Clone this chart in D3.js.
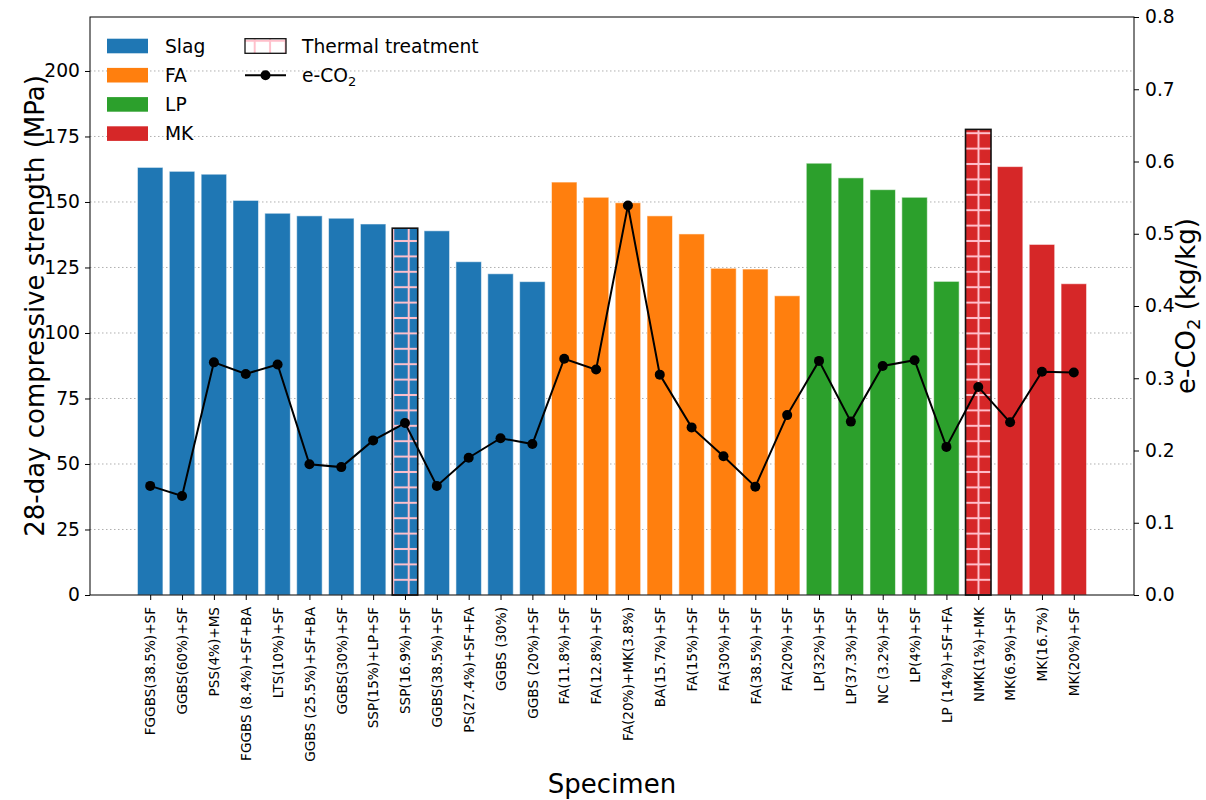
<!DOCTYPE html>
<html>
<head>
<meta charset="utf-8">
<script src="https://cdn.jsdelivr.net/npm/d3@7"></script>
<style>
  html, body { margin: 0; padding: 0; background: #fff; }
  svg { display: block; }
  svg text { font-family: "DejaVu Sans", sans-serif; }
</style>
</head>
<body>
<svg id="chart" width="1206" height="800"></svg>
<script>
// Specimens, grouped by binder family
const specimens = [
  "FGGBS(38.5%)+SF", "GGBS(60%)+SF", "PSS(4%)+MS", "FGGBS (8.4%)+SF+BA", "LTS(10%)+SF",
  "GGBS (25.5%)+SF+BA", "GGBS(30%)+SF", "SSP(15%)+LP+SF", "SSP(16.9%)+SF", "GGBS(38.5%)+SF",
  "PS(27.4%)+SF+FA", "GGBS (30%)", "GGBS (20%)+SF",
  "FA(11.8%)+SF", "FA(12.8%)+SF", "FA(20%)+MK(3.8%)", "BA(15.7%)+SF", "FA(15%)+SF",
  "FA(30%)+SF", "FA(38.5%)+SF", "FA(20%)+SF",
  "LP(32%)+SF", "LP(37.3%)+SF", "NC (3.2%)+SF", "LP(4%)+SF", "LP (14%)+SF+FA",
  "NMK(1%)+MK", "MK(6.9%)+SF", "MK(16.7%)", "MK(20%)+SF"
];
const groups = [
  "Slag", "Slag", "Slag", "Slag", "Slag", "Slag", "Slag", "Slag", "Slag", "Slag", "Slag", "Slag", "Slag",
  "FA", "FA", "FA", "FA", "FA", "FA", "FA", "FA",
  "LP", "LP", "LP", "LP", "LP",
  "MK", "MK", "MK", "MK"
];
// 28-day compressive strength (MPa)
const strength = [
  163.2, 161.7, 160.6, 150.6, 145.7, 144.7, 143.8, 141.6, 140.0, 139.0, 127.2, 122.6, 119.6,
  157.6, 151.8, 149.7, 144.7, 137.8, 124.7, 124.4, 114.2,
  164.8, 159.2, 154.7, 151.8, 119.7,
  177.7, 163.5, 133.8, 118.8
];
// Embodied CO2 (kg/kg)
const eco2 = [
  0.151, 0.137, 0.322, 0.306, 0.319, 0.181, 0.177, 0.214, 0.238, 0.151, 0.190, 0.217, 0.209,
  0.327, 0.312, 0.539, 0.305, 0.232, 0.192, 0.150, 0.249,
  0.324, 0.240, 0.317, 0.325, 0.205,
  0.288, 0.239, 0.309, 0.308
];
// Specimens that received thermal treatment
const thermal = ["SSP(16.9%)+SF", "NMK(1%)+MK"];

const groupNames = ["Slag", "FA", "LP", "MK"];
const groupColors = ["#1f77b4", "#ff7f0e", "#2ca02c", "#d62728"];
const leftTicks = [0, 25, 50, 75, 100, 125, 150, 175, 200];
const rightTicks = [0, 0.1, 0.2, 0.3, 0.4, 0.5, 0.6, 0.7, 0.8];

const FONT = "DejaVu Sans";
const svg = d3.select("#chart");
const plot = { left: 90, right: 1134, top: 17, bottom: 595 };
const n = specimens.length;
const pad = 0.05 * (n - 1 + 0.8);

const x = d3.scaleLinear().domain([-0.4 - pad, n - 1 + 0.4 + pad]).range([plot.left, plot.right]);
const y = d3.scaleLinear().domain([0, 220.6]).range([plot.bottom, plot.top]);
const y2 = d3.scaleLinear().domain([0, 0.8]).range([plot.bottom, plot.top]);
const color = d3.scaleOrdinal().domain(groupNames).range(groupColors);
const barW = x(0.8) - x(0);

// Cross hatch used for thermally treated specimens
const defs = svg.append("defs");
const P = 15.4;
const hatch = defs.append("pattern")
  .attr("id", "crossHatch")
  .attr("patternUnits", "userSpaceOnUse")
  .attr("x", 8.3).attr("y", 10)
  .attr("width", P).attr("height", P);
[[0, 0, 0, P], [0, 0, P, 0], [P, 0, P, P], [0, P, P, P]].forEach(([x1, y1, x2, y2_]) => {
  hatch.append("line")
    .attr("x1", x1).attr("y1", y1).attr("x2", x2).attr("y2", y2_)
    .attr("stroke", "#ffc0cb").attr("stroke-width", 2);
});

// Dotted horizontal grid on the strength axis
svg.append("g")
  .selectAll("line")
  .data(leftTicks.filter(d => d > 0))
  .join("line")
  .attr("x1", plot.left).attr("x2", plot.right)
  .attr("y1", d => y(d)).attr("y2", d => y(d))
  .attr("stroke", "#b0b0b0").attr("stroke-width", 1)
  .attr("stroke-dasharray", "1.5,2.5");

// Strength bars
const rows = specimens.map((s, i) => ({ s, i, g: groups[i], v: strength[i], t: thermal.includes(s) }));
const bars = svg.append("g");
bars.selectAll("rect.bar")
  .data(rows)
  .join("rect")
  .attr("class", "bar")
  .attr("x", d => x(d.i) - barW / 2)
  .attr("width", barW)
  .attr("y", d => y(d.v))
  .attr("height", d => y(0) - y(d.v))
  .attr("fill", d => color(d.g))
  .attr("stroke", d => d.t ? "none" : "#ffffff")
  .attr("stroke-opacity", 0.55)
  .attr("stroke-width", 1);
bars.selectAll("rect.hatch")
  .data(rows.filter(d => d.t))
  .join("rect")
  .attr("class", "hatch")
  .attr("x", d => x(d.i) - barW / 2)
  .attr("width", barW)
  .attr("y", d => y(d.v))
  .attr("height", d => y(0) - y(d.v))
  .attr("fill", "url(#crossHatch)")
  .attr("stroke", "#111")
  .attr("stroke-width", 1.6);

// e-CO2 line on the secondary axis
const line = d3.line().x((d, i) => x(i)).y(d => y2(d));
svg.append("path")
  .datum(eco2)
  .attr("d", line)
  .attr("fill", "none")
  .attr("stroke", "#000")
  .attr("stroke-width", 2);
svg.append("g")
  .selectAll("circle")
  .data(eco2)
  .join("circle")
  .attr("cx", (d, i) => x(i))
  .attr("cy", d => y2(d))
  .attr("r", 5)
  .attr("fill", "#000");

// Axes
const tickFont = "18.7px";
const xAxis = svg.append("g")
  .attr("transform", `translate(0,${plot.bottom})`)
  .call(d3.axisBottom(x).tickValues(d3.range(n)).tickFormat(i => specimens[i]).tickSizeOuter(0).tickSize(5))
  .attr("font-family", FONT);
xAxis.select(".domain").remove();
xAxis.selectAll("text")
  .attr("font-family", FONT)
  .attr("font-size", "13.6px")
  .attr("fill", "#000")
  .attr("text-anchor", "end")
  .attr("transform", "rotate(-90)")
  .attr("x", -12)
  .attr("y", 0)
  .attr("dy", "0.35em");

const yAxis = svg.append("g")
  .attr("transform", `translate(${plot.left},0)`)
  .call(d3.axisLeft(y).tickValues(leftTicks).tickFormat(d3.format("d")).tickSize(5).tickPadding(5))
  .attr("font-family", FONT);
yAxis.select(".domain").remove();
yAxis.selectAll("text").attr("font-family", FONT).attr("font-size", tickFont).attr("fill", "#000");

const yAxis2 = svg.append("g")
  .attr("transform", `translate(${plot.right},0)`)
  .call(d3.axisRight(y2).tickValues(rightTicks).tickFormat(d3.format(".1f")).tickSize(5).tickPadding(6))
  .attr("font-family", FONT);
yAxis2.select(".domain").remove();
yAxis2.selectAll("text").attr("font-family", FONT).attr("font-size", tickFont).attr("fill", "#000");
svg.selectAll(".tick line").attr("stroke", "#000");

// Frame
svg.append("rect")
  .attr("x", plot.left).attr("y", plot.top)
  .attr("width", plot.right - plot.left).attr("height", plot.bottom - plot.top)
  .attr("fill", "none").attr("stroke", "#000").attr("stroke-width", 1);

// Axis titles
svg.append("text")
  .attr("transform", `translate(44,${(plot.top + plot.bottom) / 2}) rotate(-90)`)
  .attr("text-anchor", "middle")
  .attr("font-family", FONT)
  .attr("font-size", "26px")
  .text("28-day compressive strength (MPa)");

const r2 = svg.append("text")
  .attr("transform", `translate(1195,${(plot.top + plot.bottom) / 2}) rotate(-90)`)
  .attr("text-anchor", "middle")
  .attr("font-family", FONT)
  .attr("font-size", "26px");
r2.append("tspan").text("e-CO");
r2.append("tspan").attr("font-size", "18px").attr("dy", 5).text("2");
r2.append("tspan").attr("dy", -5).text(" (kg/kg)");

svg.append("text")
  .attr("x", (plot.left + plot.right) / 2)
  .attr("y", 793)
  .attr("text-anchor", "middle")
  .attr("font-family", FONT)
  .attr("font-size", "26px")
  .text("Specimen");

// Legend
const legend = svg.append("g").attr("font-family", FONT);
const rowY = [46, 75.2, 104.4, 133.6];
groupNames.forEach((g, k) => {
  legend.append("rect")
    .attr("x", 107).attr("y", rowY[k] - 7.3)
    .attr("width", 41).attr("height", 14.6)
    .attr("fill", groupColors[k]);
  legend.append("text")
    .attr("x", 165).attr("y", rowY[k])
    .attr("dy", "0.35em")
    .attr("font-size", tickFont)
    .text(g);
});
legend.append("rect")
  .attr("x", 245).attr("y", rowY[0] - 7.3)
  .attr("width", 41).attr("height", 14.6)
  .attr("fill", "#fff");
legend.append("rect")
  .attr("x", 245).attr("y", rowY[0] - 7.3)
  .attr("width", 41).attr("height", 14.6)
  .attr("fill", "url(#crossHatch)")
  .attr("stroke", "#111").attr("stroke-width", 1.3);
legend.append("text")
  .attr("x", 302).attr("y", rowY[0])
  .attr("dy", "0.35em")
  .attr("font-size", tickFont)
  .text("Thermal treatment");
legend.append("line")
  .attr("x1", 245).attr("x2", 286)
  .attr("y1", rowY[1]).attr("y2", rowY[1])
  .attr("stroke", "#000").attr("stroke-width", 2);
legend.append("circle")
  .attr("cx", 265.5).attr("cy", rowY[1]).attr("r", 5).attr("fill", "#000");
const lt = legend.append("text")
  .attr("x", 302).attr("y", rowY[1])
  .attr("dy", "0.35em")
  .attr("font-size", tickFont);
lt.append("tspan").text("e-CO");
lt.append("tspan").attr("font-size", "13px").attr("dy", 4).text("2");
</script>
</body>
</html>
